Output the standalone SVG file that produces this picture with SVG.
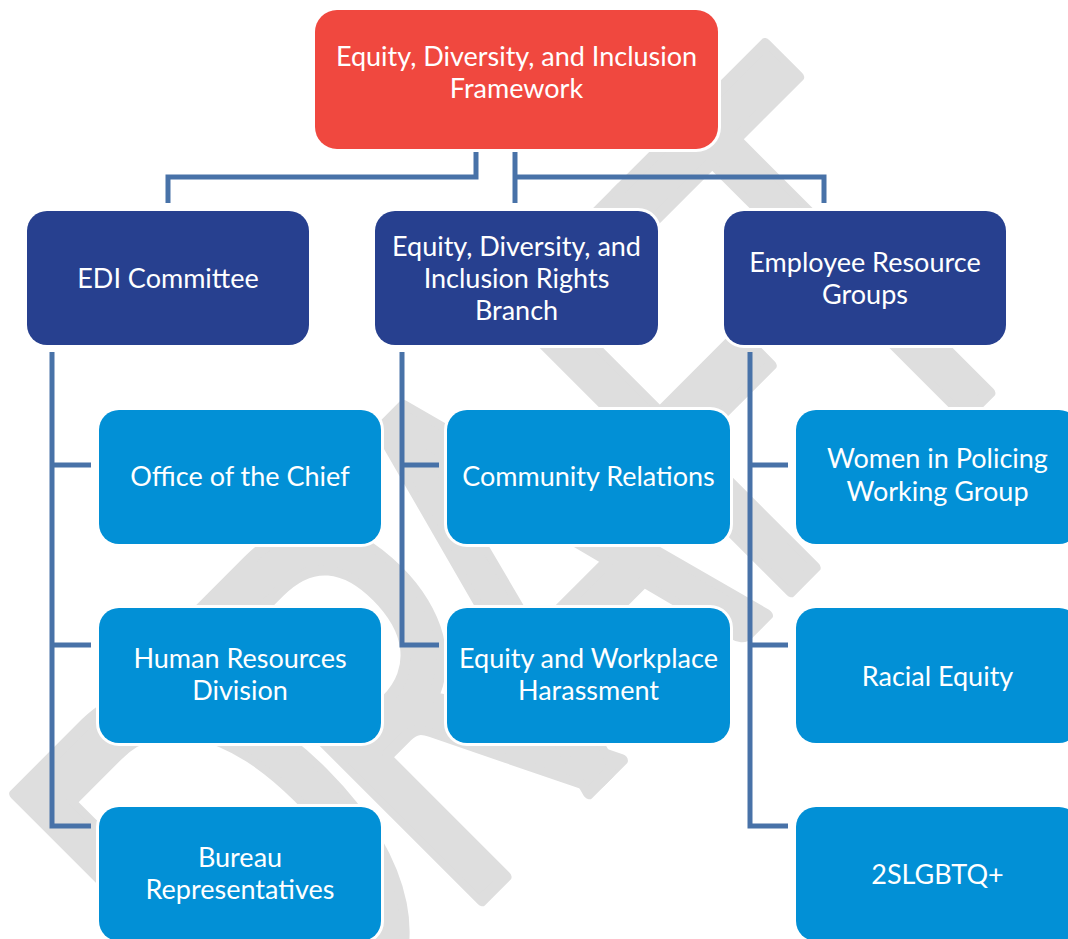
<svg xmlns="http://www.w3.org/2000/svg" width="1068" height="939" viewBox="0 0 1068 939">
  <style>
    .wm { font-family: Lato, "Open Sans", sans-serif; font-size: 380px; fill: #dedede; stroke: #dedede; stroke-width: 8; stroke-linejoin: round; }
    .box { stroke: #ffffff; stroke-width: 6; paint-order: stroke; }
    .root { fill: #f0483f; }
    .l1 { fill: #27408f; }
    .l2 { fill: #0290d6; }
    .t { font-family: Lato, "Liberation Sans", sans-serif; font-size: 27px; fill: #ffffff; text-anchor: middle; }
    .conn { fill: none; stroke: #4872a8; stroke-width: 5; }
  </style>
  <rect width="1068" height="939" fill="#ffffff"/>
  <g id="watermark" transform="translate(9,797) rotate(-45)">
    <text class="wm" transform="scale(1,1.486)" x="-30 225 410 662 850" y="274">DRAFT</text>
  </g>
  <g id="connectors">
    <path class="conn" d="M476,150 V177 H168 V203"/>
    <path class="conn" d="M515,150 V203"/>
    <path class="conn" d="M515,177 H824 V203"/>
    <path class="conn" d="M52,352 V826 H91"/>
    <path class="conn" d="M52,465 H91"/>
    <path class="conn" d="M52,645 H91"/>
    <path class="conn" d="M402,352 V645 H439"/>
    <path class="conn" d="M402,465 H439"/>
    <path class="conn" d="M750,352 V826 H788"/>
    <path class="conn" d="M750,465 H788"/>
    <path class="conn" d="M750,645 H788"/>
  </g>
  <g id="root">
    <rect class="box root" x="315" y="10" width="403" height="139" rx="22"/>
    <text class="t" x="516.5" y="66">Equity, Diversity, and Inclusion</text>
    <text class="t" x="516.5" y="98">Framework</text>
  </g>
  <g id="edi-committee">
    <rect class="box l1" x="27" y="211" width="282" height="134" rx="20"/>
    <text class="t" x="168" y="288">EDI Committee</text>
  </g>
  <g id="edi-rights-branch">
    <rect class="box l1" x="375" y="211" width="283" height="134" rx="20"/>
    <text class="t" x="516.5" y="256">Equity, Diversity, and</text>
    <text class="t" x="516.5" y="288">Inclusion Rights</text>
    <text class="t" x="516.5" y="320">Branch</text>
  </g>
  <g id="employee-resource-groups">
    <rect class="box l1" x="724" y="211" width="282" height="134" rx="20"/>
    <text class="t" x="865" y="272">Employee Resource</text>
    <text class="t" x="865" y="304">Groups</text>
  </g>
  <g id="office-chief">
    <rect class="box l2" x="99" y="410" width="282" height="134" rx="20"/>
    <text class="t" x="240" y="486">Office of the Chief</text>
  </g>
  <g id="hr-division">
    <rect class="box l2" x="99" y="608" width="282" height="135" rx="20"/>
    <text class="t" x="240" y="668">Human Resources</text>
    <text class="t" x="240" y="700">Division</text>
  </g>
  <g id="bureau-reps">
    <rect class="box l2" x="99" y="807" width="282" height="134" rx="20"/>
    <text class="t" x="240" y="867">Bureau</text>
    <text class="t" x="240" y="899">Representatives</text>
  </g>
  <g id="community-relations">
    <rect class="box l2" x="447" y="410" width="283" height="134" rx="20"/>
    <text class="t" x="588.5" y="486">Community Relations</text>
  </g>
  <g id="equity-harassment">
    <rect class="box l2" x="447" y="608" width="283" height="135" rx="20"/>
    <text class="t" x="588.5" y="668">Equity and Workplace</text>
    <text class="t" x="588.5" y="700">Harassment</text>
  </g>
  <g id="women-policing">
    <rect class="box l2" x="796" y="410" width="283" height="134" rx="20"/>
    <text class="t" x="937.5" y="468">Women in Policing</text>
    <text class="t" x="937.5" y="501">Working Group</text>
  </g>
  <g id="racial-equity">
    <rect class="box l2" x="796" y="608" width="283" height="135" rx="20"/>
    <text class="t" x="937.5" y="686">Racial Equity</text>
  </g>
  <g id="twoslgbtq">
    <rect class="box l2" x="796" y="807" width="283" height="134" rx="20"/>
    <text class="t" x="937.5" y="884">2SLGBTQ+</text>
  </g>
</svg>
